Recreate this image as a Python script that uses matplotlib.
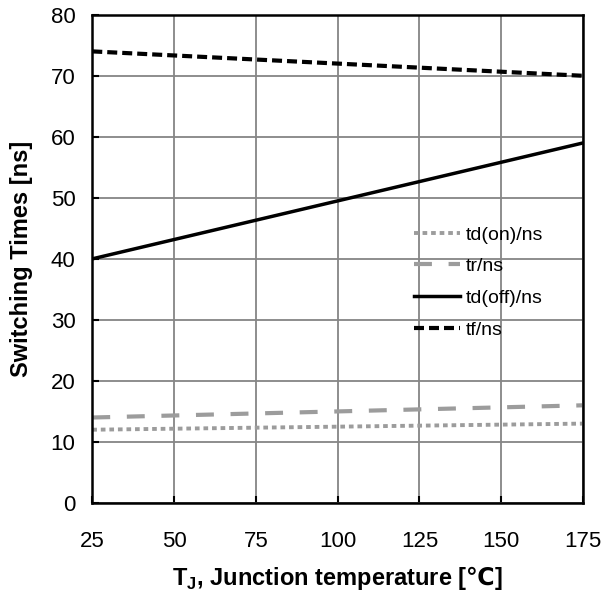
import matplotlib.pyplot as plt

plt.rcParams['font.family'] = ['Liberation Sans', 'DejaVu Sans']
plt.rcParams['mathtext.fontset'] = 'custom'
plt.rcParams['mathtext.rm'] = 'Liberation Sans:bold'
plt.rcParams['mathtext.bf'] = 'Liberation Sans:bold'
plt.rcParams['mathtext.sf'] = 'DejaVu Sans:bold'

# Data
temps = [25, 175]
td_on = [12.0, 13.0]
tr = [14.0, 16.0]
td_off = [40.0, 59.0]
tf = [74.0, 70.0]

x_ticks = [25, 50, 75, 100, 125, 150, 175]
y_ticks = [0, 10, 20, 30, 40, 50, 60, 70, 80]

fig = plt.figure(figsize=(6.03, 5.91), dpi=100)
ax = fig.add_axes([0.153, 0.149, 0.814, 0.826])

ax.plot(temps, td_on, color='#9c9c9c', lw=2.8, linestyle=(0, (1.2, 1.0)), label='td(on)/ns')
ax.plot(temps, tr, color='#9c9c9c', lw=3, linestyle=(0, (4.3, 4)), label='tr/ns')
ax.plot(temps, td_off, color='black', lw=2.5, linestyle='-', label='td(off)/ns')
ax.plot(temps, tf, color='black', lw=3, linestyle=(0, (2.4, 1.2)), label='tf/ns')

ax.set_xlim(25, 175)
ax.set_ylim(0, 80)
ax.set_xticks(x_ticks)
ax.set_yticks(y_ticks)
ax.grid(True, color='#858585', lw=1.3)
ax.set_axisbelow(True)
for s in ax.spines.values():
    s.set_linewidth(1.8)
    s.set_color('black')

ax.tick_params(axis='both', direction='in', length=5, width=1.5, labelsize=16)
ax.tick_params(axis='y', pad=12)
ax.tick_params(axis='x', pad=20)

ax.set_xlabel('T$_\\mathregular{J}$, Junction temperature [$\\mathsf{\u2103}$]',
              fontsize=17, fontweight='bold', labelpad=9)
ax.set_ylabel('Switching Times [ns]', fontsize=17, fontweight='bold', labelpad=13)

ax.legend(loc='center right', bbox_to_anchor=(0.955, 0.452), frameon=False, fontsize=14,
          handlelength=2.4, handletextpad=0.3, labelspacing=0.72)

fig.savefig('out.png', dpi=100)
